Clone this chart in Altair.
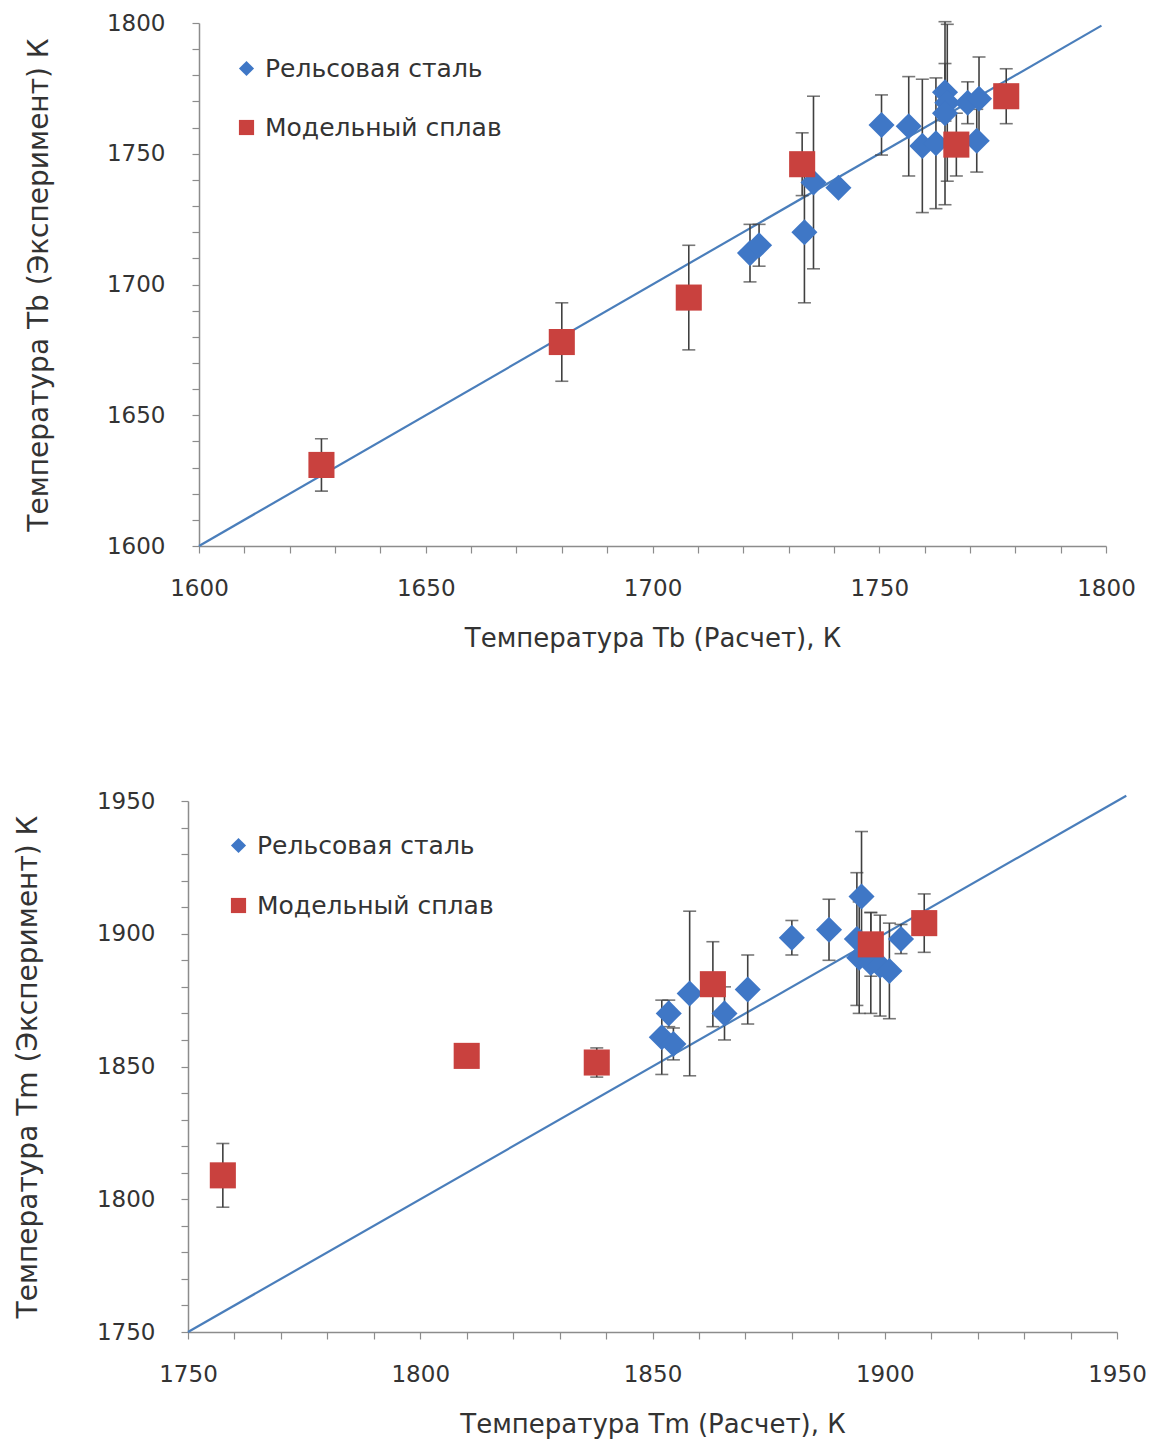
import altair as alt
import pandas as pd

RAIL = "Рельсовая сталь"
MODEL = "Модельный сплав"

# ---------- Top panel: Tb ----------
tb_rail_calc = [1721.5, 1723.5, 1733.5, 1735.5, 1741.0, 1750.5, 1756.5, 1759.5, 1762.5, 1764.5, 1765.0, 1764.5, 1769.5, 1772.0, 1771.5]
tb_rail_exp = [1712.0, 1715.0, 1720.0, 1739.0, 1737.0, 1761.0, 1760.5, 1753.0, 1754.0, 1773.5, 1769.5, 1765.5, 1769.5, 1771.0, 1755.0]
tb_rail_err = [11.0, 8.0, 27.0, 33.0, 0.0, 11.5, 19.0, 25.5, 25.0, 11.0, 30.0, 35.0, 8.0, 16.0, 12.0]

tb_model_calc = [1627.0, 1680.0, 1708.0, 1733.0, 1767.0, 1778.0]
tb_model_exp = [1631.0, 1678.0, 1695.0, 1746.0, 1753.5, 1772.0]
tb_model_err = [10.0, 15.0, 20.0, 12.0, 12.0, 10.5]

tb_line = [1600, 1799]
tb_ticks_major = [1600, 1650, 1700, 1750, 1800]

# ---------- Bottom panel: Tm ----------
tm_rail_calc = [1852.0, 1854.5, 1853.5, 1858.0, 1865.5, 1870.5, 1880.0, 1888.0, 1895.0, 1894.0, 1894.5, 1897.0, 1899.0, 1901.0, 1903.5]
tm_rail_exp = [1861.0, 1858.5, 1870.0, 1877.5, 1870.0, 1879.0, 1898.5, 1901.5, 1914.0, 1898.0, 1891.0, 1889.0, 1888.0, 1886.0, 1898.0]
tm_rail_err = [14.0, 6.0, 5.0, 31.0, 10.0, 13.0, 6.5, 11.5, 24.5, 25.0, 21.0, 19.0, 19.0, 18.0, 5.5]

tm_model_calc = [1757.5, 1810.0, 1838.0, 1863.0, 1897.0, 1908.5]
tm_model_exp = [1809.0, 1854.0, 1851.5, 1881.0, 1896.0, 1904.0]
tm_model_err = [12.0, 0.0, 5.5, 16.0, 12.0, 11.0]

tm_line = [1750, 1952]
tm_ticks_major = [1750, 1800, 1850, 1900, 1950]

BLUE = "#3F77C6"
RED = "#C9413E"
LINE = "#4A7EBB"
TEXT = "#333333"
AXIS = "#8c8c8c"
FONT = "DejaVu Sans"


def panel(rc, re, rerr, mc, me, merr, line, majors, xtitle, ytitle, w, h,
          lx, ly, lab_pad_y, title_pad_y, row_pad):
    rows = []
    for c, e, er in zip(rc, re, rerr):
        rows.append({"calc": c, "exp": e, "lo": e - er, "hi": e + er, "series": RAIL})
    for c, e, er in zip(mc, me, merr):
        rows.append({"calc": c, "exp": e, "lo": e - er, "hi": e + er, "series": MODEL})
    df = pd.DataFrame(rows)
    ldf = pd.DataFrame({"calc": line, "exp": line})

    lo_d, hi_d = majors[0], majors[-1]
    minor = list(range(lo_d, hi_d + 1, 10))
    lab = "datum.value % 50 == 0 ? datum.label : ''"

    common = dict(values=minor, labelExpr=lab, labelOverlap=False, labelFlush=False, grid=False,
                  tickSize=7, tickColor=AXIS, domainColor=AXIS, domainWidth=1.5,
                  tickWidth=1.2, labelFont=FONT, labelFontSize=23, labelColor=TEXT,
                  titleFont=FONT, titleColor=TEXT, titleFontWeight="normal", format="d")
    xaxis = alt.Axis(labelPadding=24, titlePadding=25, titleFontSize=26, **common)
    yaxis = alt.Axis(labelPadding=lab_pad_y, titlePadding=title_pad_y, titleFontSize=28, **common)
    xs = alt.Scale(domain=[lo_d, hi_d], nice=False, zero=False)
    ys = alt.Scale(domain=[lo_d, hi_d], nice=False, zero=False)

    def X():
        return alt.X("calc:Q", scale=xs, axis=xaxis, title=xtitle)

    def Y(f):
        return alt.Y(f + ":Q", scale=ys, axis=yaxis, title=ytitle)

    base = alt.Chart(df)
    line_l = alt.Chart(ldf).mark_line(color=LINE, strokeWidth=2.2).encode(x=X(), y=Y("exp"))
    rule = base.mark_rule(color="#404040", strokeWidth=1.6).encode(x=X(), y=Y("lo"), y2="hi")
    cap_lo = base.mark_tick(orient="horizontal", size=13, thickness=1.6, color="#404040").encode(x=X(), y=Y("lo"))
    cap_hi = base.mark_tick(orient="horizontal", size=13, thickness=1.6, color="#404040").encode(x=X(), y=Y("hi"))
    pts = base.mark_point(filled=True, opacity=1, strokeWidth=0, size=680).encode(
        x=X(), y=Y("exp"),
        color=alt.Color("series:N", scale=alt.Scale(domain=[RAIL, MODEL], range=[BLUE, RED]),
                        legend=alt.Legend(title=None, orient="none", legendX=lx, legendY=ly,
                                          labelFont=FONT, labelFontSize=25, labelColor=TEXT,
                                          labelLimit=0,
                                          symbolSize=230, symbolStrokeWidth=0, rowPadding=row_pad,
                                          labelOffset=6, padding=0)),
        shape=alt.Shape("series:N", scale=alt.Scale(domain=[RAIL, MODEL], range=["diamond", "square"])),
        order=alt.Order("series:N", sort="descending"),
    )
    return alt.layer(line_l, rule, cap_lo, cap_hi, pts).properties(width=w, height=h)


top = panel(tb_rail_calc, tb_rail_exp, tb_rail_err, tb_model_calc, tb_model_exp, tb_model_err,
            tb_line, tb_ticks_major, "Температура Tb (Расчет), К", "Температура Tb  (Эксперимент)  К",
            907, 523, 35, 33, 27, 53, 33)
bottom = panel(tm_rail_calc, tm_rail_exp, tm_rail_err, tm_model_calc, tm_model_exp, tm_model_err,
               tm_line, tm_ticks_major, "Температура Tm (Расчет), К", "Температура Tm  (Эксперимент)  К",
               929, 531, 38, 32, 26, 54, 34)

chart = alt.concat(top, bottom, columns=1, bounds="flush", center=True, spacing=255).properties(
    padding={"left": 6, "top": 4, "right": 5, "bottom": 5}
).resolve_scale(color="independent", shape="independent").resolve_legend(
    color="independent", shape="independent"
).configure_view(stroke=None)

chart.save("out.html", embed_options={"renderer": "svg", "actions": False})
